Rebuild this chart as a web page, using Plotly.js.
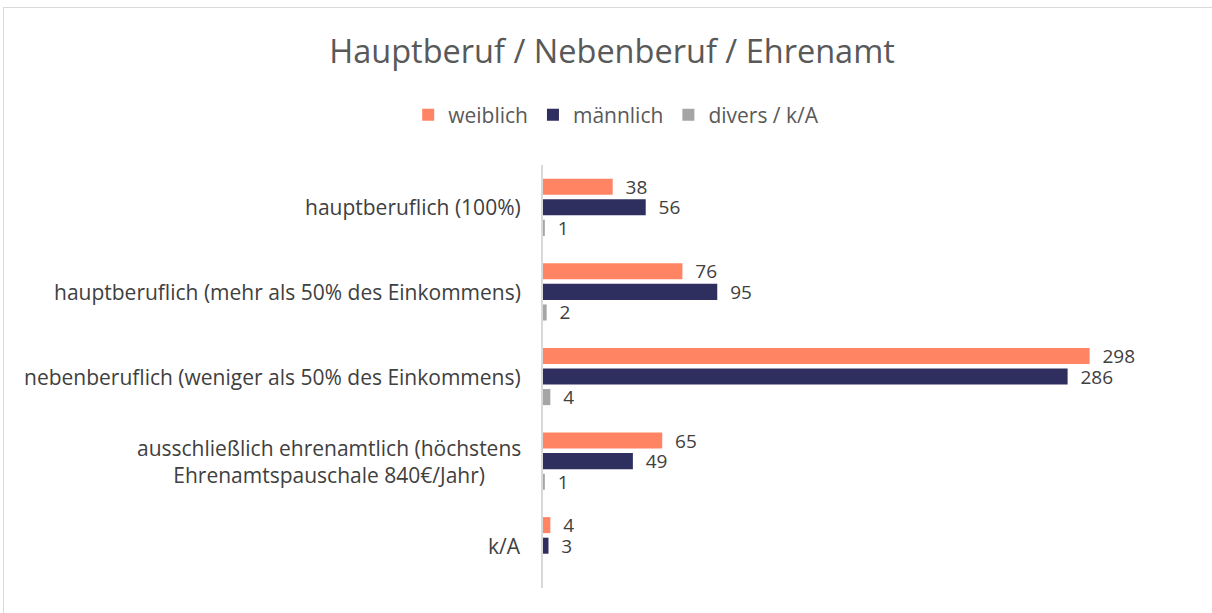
<!DOCTYPE html>
<html>
<head>
<meta charset="utf-8">
<script src="https://cdn.plot.ly/plotly-3.0.1.min.js"></script>
<style>
html,body{margin:0;padding:0;overflow:hidden;background:#fff;width:1212px;height:613px;}
#frame{position:absolute;left:3px;top:7px;width:1220px;height:620px;border:1px solid #d9d9d9;box-sizing:border-box;}
#chart{position:absolute;left:0;top:0;width:1212px;height:613px;}
</style>
</head>
<body>
<div id="frame"></div>
<div id="chart"></div>
<script>
const categories = [
  "hauptberuflich (100%)",
  "hauptberuflich (mehr als 50% des Einkommens)",
  "nebenberuflich (weniger als 50% des Einkommens)",
  "ausschließlich ehrenamtlich (höchstens<br>Ehrenamtspauschale 840€/Jahr)",
  "k/A"
];
const weiblich = [38, 76, 298, 65, 4];
const maennlich = [56, 95, 286, 49, 3];
const divers = [1, 2, 4, 1, null];
const seriesNames = ["weiblich", "männlich", "divers / k/A"];
const seriesColors = ["#FF8464", "#2E2F5F", "#A5A5A5"];

const FONT = "'Open Sans', 'Noto Sans', sans-serif";
const pad = "\u00a0\u00a0";
function mk(vals, i) {
  return {
    type: "bar",
    orientation: "h",
    name: seriesNames[i],
    y: categories,
    x: vals,
    marker: {color: seriesColors[i]},
    text: vals.map(v => v == null ? "" : pad + v),
    textposition: "outside",
    constraintext: "none",
    cliponaxis: false,
    textfont: {family: FONT, size: 19, color: "#404040"},
    hoverinfo: "x+name"
  };
}
const data = [mk(weiblich, 0), mk(maennlich, 1), mk(divers, 2)];

const annotations = categories.map(c => ({
  xref: "paper", yref: "y", x: 0, y: c, xanchor: "right", yanchor: "middle",
  xshift: -20, align: "center", showarrow: false, text: c,
  font: {family: FONT, size: 21, color: "#404040"}
}));

const layout = {
  width: 1212, height: 613,
  margin: {l: 543, r: 27, t: 165, b: 25, pad: 0},
  paper_bgcolor: "rgba(0,0,0,0)",
  plot_bgcolor: "rgba(0,0,0,0)",
  barmode: "group",
  bargap: 0.27,
  bargroupgap: 0.22,
  title: {
    text: "Hauptberuf / Nebenberuf / Ehrenamt",
    xref: "container", yref: "container", x: 0.505, y: 1 - 52/613,
    xanchor: "center", yanchor: "middle",
    font: {family: FONT, size: 32.5, color: "#595959"}
  },
  legend: {
    orientation: "h", x: 0.114, xanchor: "center", y: 1 + 50/423, yanchor: "middle",
    font: {family: FONT, size: 21, color: "#595959"},
    itemwidth: 30, traceorder: "normal"
  },
  xaxis: {range: [0, 350], showgrid: false, zeroline: false, showticklabels: false, showline: false, fixedrange: true},
  yaxis: {
    type: "category", autorange: "reversed", showticklabels: false, ticks: "",
    showline: true, linecolor: "#d9d9d9", linewidth: 2, showgrid: false, zeroline: false
  },
  annotations: annotations,
  showlegend: true
};
Plotly.newPlot("chart", data, layout, {displayModeBar: false, staticPlot: true});
</script>
</body>
</html>
